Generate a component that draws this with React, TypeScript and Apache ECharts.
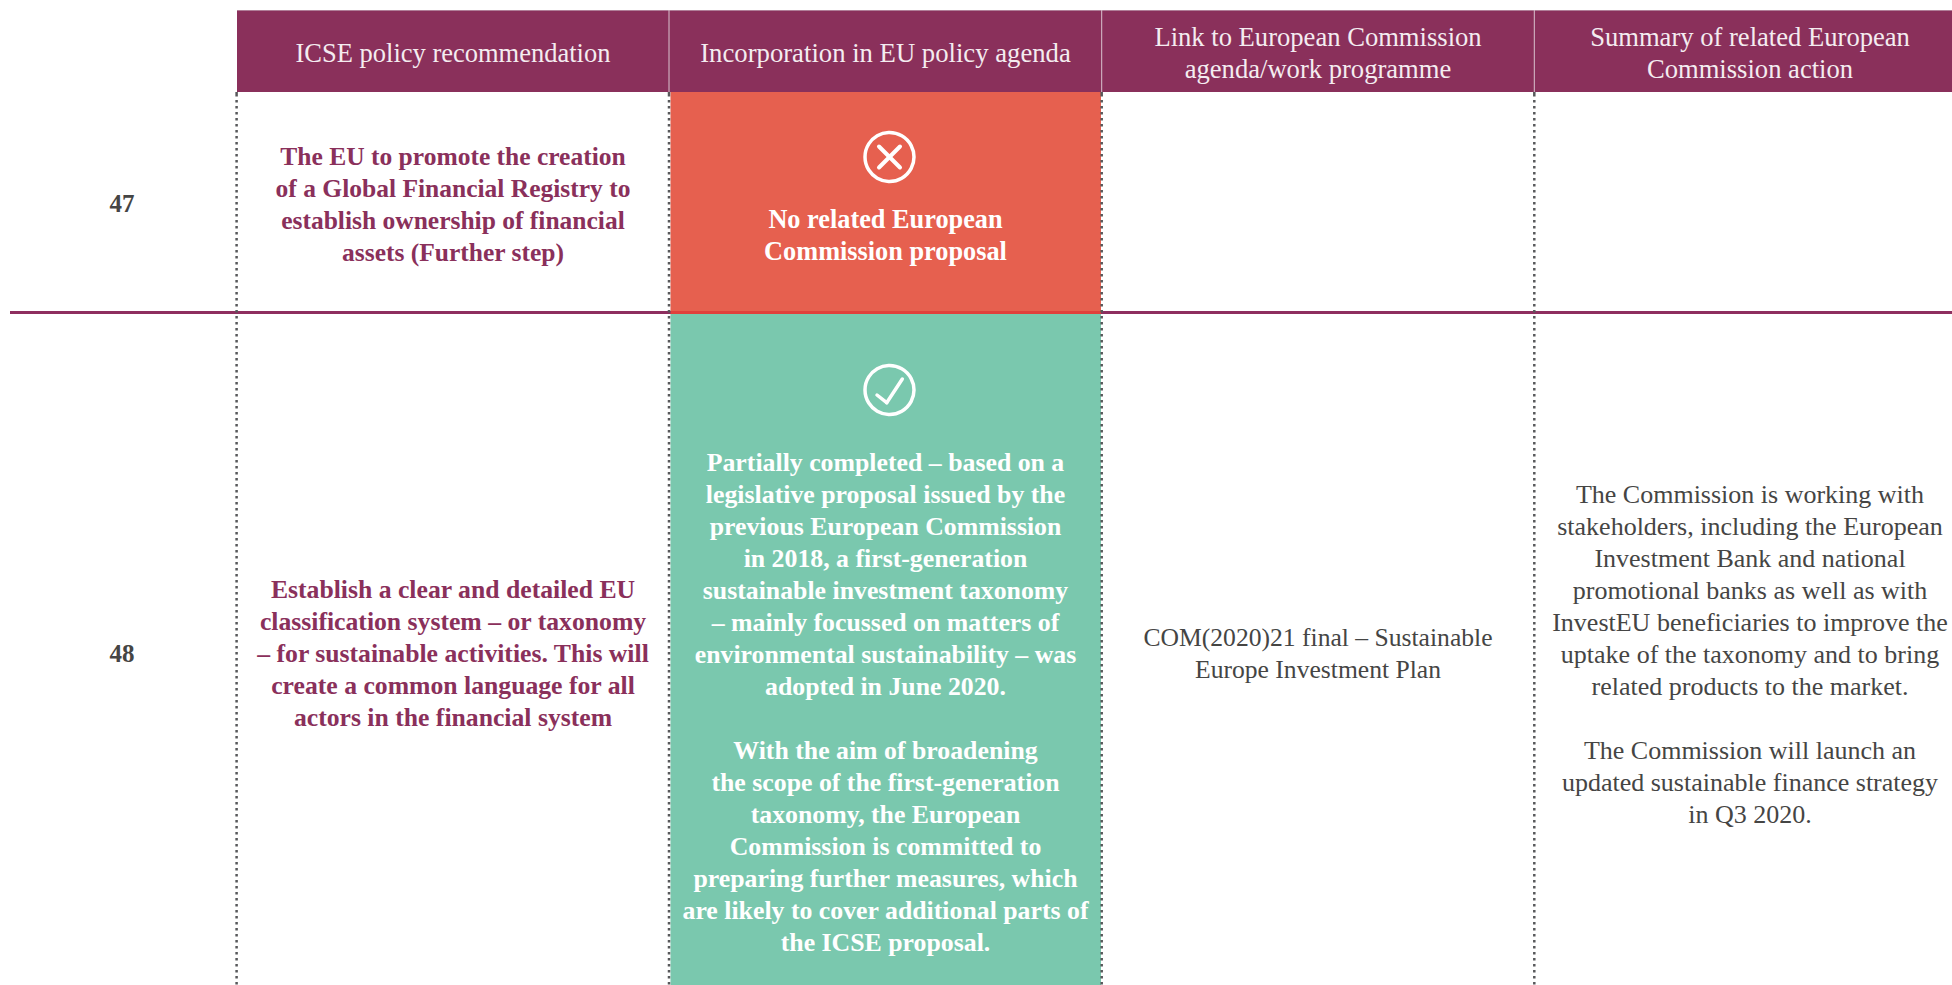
import React, { useEffect, useRef } from "react";
import * as echarts from "echarts";

const headerTitles = [
  ["ICSE policy recommendation"],
  ["Incorporation in EU policy agenda"],
  ["Link to European Commission", "agenda/work programme"],
  ["Summary of related European", "Commission action"],
];
const rowNumbers = ["47", "48"];
const rec47 = [
  "The EU to promote the creation",
  "of a Global Financial Registry to",
  "establish ownership of financial",
  "assets (Further step)",
];
const status47 = ["No related European", "Commission proposal"];
const rec48 = [
  "Establish a clear and detailed EU",
  "classification system – or taxonomy",
  "– for sustainable activities. This will",
  "create a common language for all",
  "actors in the financial system",
];
const status48a = [
  "Partially completed – based on a",
  "legislative proposal issued by the",
  "previous European Commission",
  "in 2018, a first-generation",
  "sustainable investment taxonomy",
  "– mainly focussed on matters of",
  "environmental sustainability – was",
  "adopted in June 2020.",
];
const status48b = [
  "With the aim of broadening",
  "the scope of the first-generation",
  "taxonomy, the European",
  "Commission is committed to",
  "preparing further measures, which",
  "are likely to cover additional parts of",
  "the ICSE proposal.",
];
const link48 = ["COM(2020)21 final – Sustainable", "Europe Investment Plan"];
const summary48a = [
  "The Commission is working with",
  "stakeholders, including the European",
  "Investment Bank and national",
  "promotional banks as well as with",
  "InvestEU beneficiaries to improve the",
  "uptake of the taxonomy and to bring",
  "related products to the market.",
];
const summary48b = [
  "The Commission will launch an",
  "updated sustainable finance strategy",
  "in Q3 2020.",
];

const FONT = '"Liberation Serif", serif';
const PLUM = "#8a305b";
const DARK = "#454544";
const WHITE = "#ffffff";
const LH = 32;

function block(lines: string[], cx: number, firstY: number, fill: string, size: number, bold: boolean) {
  return lines.map((t, i) => ({
    type: "text",
    x: cx,
    y: firstY + i * LH,
    silent: true,
    style: {
      text: t,
      x: 0,
      y: 0,
      fill,
      font: `${bold ? "bold " : ""}${size}px ${FONT}`,
      textAlign: "center",
      textVerticalAlign: "middle",
    },
  }));
}

function dotted(x: number, y1: number, y2: number) {
  return {
    type: "line",
    silent: true,
    shape: { x1: x, y1, x2: x, y2 },
    style: { stroke: "#58595b", lineWidth: 2.5, lineDash: [2.5, 3.5] },
  };
}

function vline(x: number, y1: number, y2: number, stroke: string, lineWidth: number) {
  return { type: "line", silent: true, shape: { x1: x, y1, x2: x, y2 }, style: { stroke, lineWidth } };
}
function seg(x1: number, y1: number, x2: number, y2: number, lineWidth: number) {
  return {
    type: "line",
    silent: true,
    shape: { x1, y1, x2, y2 },
    style: { stroke: WHITE, lineWidth, lineCap: "round" },
  };
}
function ring(cx: number, cy: number) {
  return {
    type: "circle",
    silent: true,
    shape: { cx, cy, r: 24.5 },
    style: { fill: "transparent", stroke: WHITE, lineWidth: 3.5 },
  };
}

export default function App() {
  const ref = useRef<HTMLDivElement>(null);
  useEffect(() => {
    const chart = echarts.init(ref.current!, null, { renderer: "svg" });
    const colX = [236.6, 669, 1101.7, 1534.3];
    const centers = [453, 885.5, 1318, 1750];
    const elements: any[] = [
      { type: "rect", silent: true, shape: { x: 237, y: 10, width: 1715, height: 82 }, style: { fill: PLUM } },
      { type: "rect", silent: true, shape: { x: 237, y: 10, width: 1715, height: 1 }, style: { fill: "#b07e98" } },
      { type: "rect", silent: true, shape: { x: 670.5, y: 92, width: 430.5, height: 220 }, style: { fill: "#e6604f" } },
      { type: "rect", silent: true, shape: { x: 670.5, y: 314, width: 430.5, height: 671 }, style: { fill: "#7ac8ae" } },
      { type: "rect", silent: true, shape: { x: 10, y: 311, width: 1942, height: 3 }, style: { fill: "#8e2f5f" } },
      { type: "rect", silent: true, shape: { x: 670.5, y: 311, width: 430.5, height: 3 }, style: { fill: "#e0403c" } },
    ];
    colX.slice(1).forEach((x) => elements.push(vline(x, 10, 92, "#d9c3cf", 1)));
    colX.forEach((x) => {
      elements.push(vline(x, 92, 94, "#58595b", 2.5));
      elements.push(dotted(x, 100, 985));
      elements.push(vline(x, 94, 96.5, "#58595b", 2.5));
    });

    const headerSizes = [26.5, 26.7, 26.6, 26.6];
    headerTitles.forEach((lines, i) => {
      const first = lines.length === 1 ? 53 : 37;
      elements.push(...block(lines, centers[i], first, "#f4ecf0", headerSizes[i], false));
    });
    elements.push(...block([rowNumbers[0]], 122, 203, DARK, 25, true));
    elements.push(...block([rowNumbers[1]], 122, 653, DARK, 25, true));
    elements.push(...block(rec47, 453, 156, PLUM, 25.5, true));
    elements.push(...block(status47, 885.5, 219, WHITE, 26.3, true));
    elements.push(...block(rec48, 453, 589, PLUM, 25.7, true));
    elements.push(...block(status48a, 885.5, 462, WHITE, 25.8, true));
    elements.push(...block(status48b, 885.5, 750, WHITE, 25.8, true));
    elements.push(...block(link48, 1318, 637.5, DARK, 25.6, false));
    elements.push(...block(summary48a, 1750, 494, DARK, 26, false));
    elements.push(...block(summary48b, 1750, 750, DARK, 26, false));

    elements.push(ring(889.5, 157), seg(879, 146.5, 900, 167.5, 4), seg(900, 146.5, 879, 167.5, 4));
    elements.push(ring(889.5, 390), seg(877, 395, 886.7, 402.7, 3.5), seg(886.7, 402.7, 902.3, 379, 3.5));

    chart.setOption({ animation: false, backgroundColor: "#ffffff", graphic: { elements } });
    return () => chart.dispose();
  }, []);
  return <div ref={ref} style={{ position: "absolute", left: 0, top: 0, width: 1952, height: 985 }} />;
}
